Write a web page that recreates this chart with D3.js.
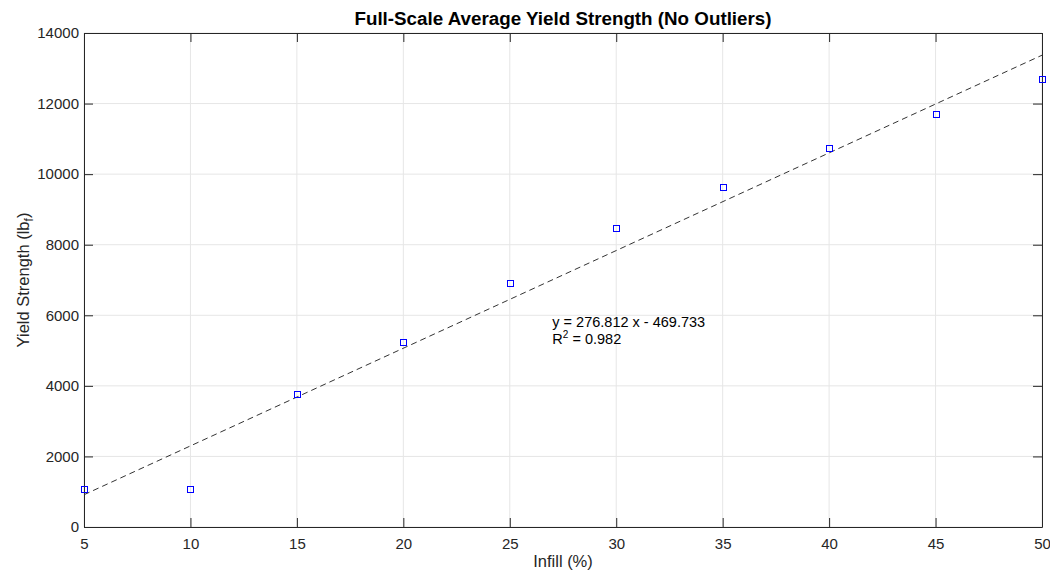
<!DOCTYPE html>
<html>
<head>
<meta charset="utf-8">
<script src="https://cdn.jsdelivr.net/npm/d3@7"></script>
<style>
  body { margin: 0; background: #fff; }
  text { font-family: "Liberation Sans", Arial, sans-serif; }
</style>
</head>
<body>
<svg id="chart"></svg>
<script>
// data
var infill = [5, 10, 15, 20, 25, 30, 35, 40, 45, 50]
var yieldStrength = [1080, 1090, 3770, 5250, 6915, 8473, 9635, 10740, 11712, 12695]
var fitSlope = 276.812
var fitIntercept = -469.733
var fitLabel = ["y = 276.812 x - 469.733", "0.982"]
var xTicks = [5, 10, 15, 20, 25, 30, 35, 40, 45, 50]
var yTicks = [0, 2000, 4000, 6000, 8000, 10000, 12000, 14000]

var width = 1050, height = 574
var margin = {top: 33, right: 8, bottom: 47, left: 84}
var axisColor = "#262626"

var svg = d3.select("#chart").attr("width", width).attr("height", height)

var x = d3.scaleLinear().domain([5, 50]).range([margin.left, width - margin.right])
var y = d3.scaleLinear().domain([0, 14000]).range([height - margin.bottom, margin.top])

//grid
var grid = svg.append("g")
grid.selectAll(".gx").data(xTicks).enter().append("line")
    .attr("x1", d => x(d)).attr("x2", d => x(d))
    .attr("y1", y(0)).attr("y2", y(14000))
    .attr("stroke", "#e6e6e6").attr("stroke-width", 1)
grid.selectAll(".gy").data(yTicks).enter().append("line")
    .attr("x1", x(5)).attr("x2", x(50))
    .attr("y1", d => y(d)).attr("y2", d => y(d))
    .attr("stroke", "#e6e6e6").attr("stroke-width", 1)

//axes, ticks inward on all four sides
var tickLen = 9
function styleAxis(g) {
    g.selectAll("path").attr("stroke", axisColor)
    g.selectAll("line").attr("stroke", axisColor)
    g.selectAll("text").attr("fill", axisColor).style("font-size", "15px")
}
svg.append("g").attr("transform", `translate(0,${y(0)})`)
   .call(d3.axisBottom(x).tickValues(xTicks).tickSizeInner(-tickLen).tickSizeOuter(0).tickPadding(11))
   .call(styleAxis)
svg.append("g").attr("transform", `translate(0,${y(14000)})`)
   .call(d3.axisTop(x).tickValues(xTicks).tickSizeInner(-tickLen).tickSizeOuter(0).tickFormat(""))
   .call(styleAxis)
svg.append("g").attr("transform", `translate(${x(5)},0)`)
   .call(d3.axisLeft(y).tickValues(yTicks).tickSizeInner(-tickLen).tickSizeOuter(0).tickPadding(5).tickFormat(d3.format("d")))
   .call(styleAxis)
svg.append("g").attr("transform", `translate(${x(50)},0)`)
   .call(d3.axisRight(y).tickValues(yTicks).tickSizeInner(-tickLen).tickSizeOuter(0).tickFormat(""))
   .call(styleAxis)

//fit line
svg.append("line")
   .attr("x1", x(5)).attr("y1", y(fitSlope * 5 + fitIntercept))
   .attr("x2", x(50)).attr("y2", y(fitSlope * 50 + fitIntercept))
   .attr("stroke", "#333").attr("stroke-width", 1)
   .attr("stroke-dasharray", "6,4")

//data markers (snapped to half pixels so the blue stays crisp)
svg.append("g").selectAll("rect").data(infill).enter().append("rect")
   .attr("x", (d) => Math.round(x(d)) - 2.5)
   .attr("y", (d, i) => Math.round(y(yieldStrength[i])) - 2.5)
   .attr("width", 6).attr("height", 6)
   .attr("fill", "none").attr("stroke", "#0000ff").attr("stroke-width", 1)

//equation label
var eqY = y(5670)
var eq = svg.append("text").attr("x", x(27)).attr("y", eqY)
   .attr("fill", "#000").style("font-size", "14.5px")
eq.append("tspan").text(fitLabel[0])
var r2 = svg.append("text").attr("x", x(27)).attr("y", eqY + 17.5)
   .attr("fill", "#000").style("font-size", "14.5px")
r2.append("tspan").text("R")
r2.append("tspan").attr("dy", -6).style("font-size", "10px").text("2")
r2.append("tspan").attr("dy", 6).text(" = " + fitLabel[1])

//title and labels
svg.append("text").attr("x", (x(5) + x(50)) / 2).attr("y", 25)
   .attr("text-anchor", "middle").style("font-size", "18.8px").style("font-weight", "bold")
   .attr("fill", "#000").text("Full-Scale Average Yield Strength (No Outliers)")

svg.append("text").attr("x", (x(5) + x(50)) / 2).attr("y", 567)
   .attr("text-anchor", "middle").style("font-size", "16.5px").attr("fill", axisColor)
   .text("Infill (%)")

var yl = svg.append("text")
   .attr("transform", `translate(29,${(y(0) + y(14000)) / 2}) rotate(-90)`)
   .attr("text-anchor", "middle").style("font-size", "16.5px").attr("fill", axisColor)
yl.append("tspan").text("Yield Strength (lb")
yl.append("tspan").attr("dy", 4).style("font-size", "12px").text("f")
yl.append("tspan").attr("dy", -4).text(")")
</script>
</body>
</html>
